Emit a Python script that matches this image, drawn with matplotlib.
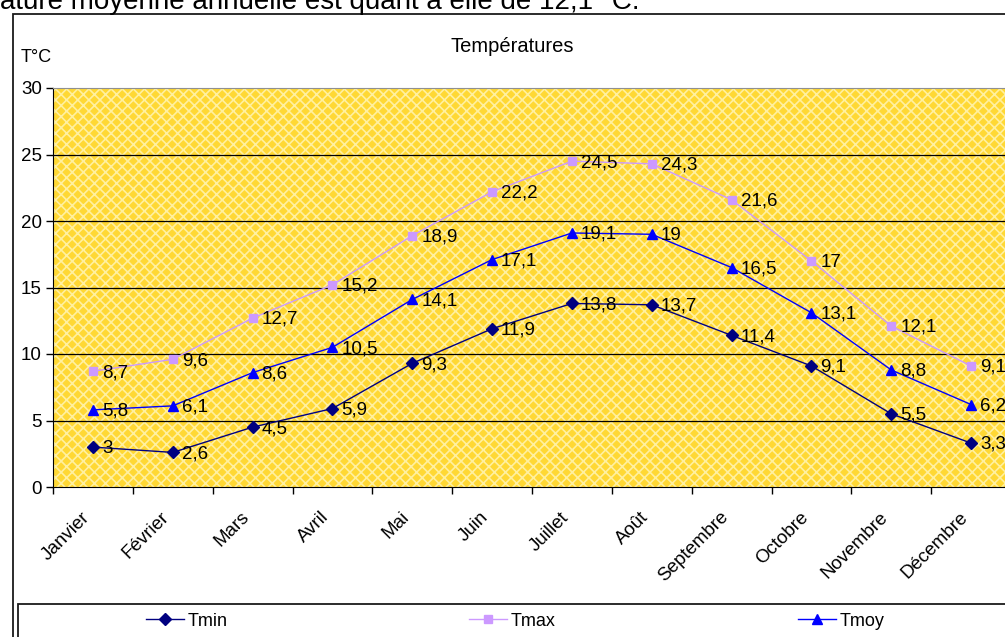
import matplotlib.pyplot as plt
import numpy as np
from matplotlib.patches import Rectangle
from matplotlib.transforms import ScaledTranslation

plt.rcParams['font.family'] = ['Liberation Sans', 'DejaVu Sans']
plt.rcParams['hatch.linewidth'] = 1.2

# values
mois = ['Janvier', 'Février', 'Mars', 'Avril', 'Mai', 'Juin', 'Juillet',
        'Août', 'Septembre', 'Octobre', 'Novembre', 'Décembre']
tmin = [3, 2.6, 4.5, 5.9, 9.3, 11.9, 13.8, 13.7, 11.4, 9.1, 5.5, 3.3]
tmax = [8.7, 9.6, 12.7, 15.2, 18.9, 22.2, 24.5, 24.3, 21.6, 17, 12.1, 9.1]
tmoy = [5.8, 6.1, 8.6, 10.5, 14.1, 17.1, 19.1, 19, 16.5, 13.1, 8.8, 6.2]
yticks = [0, 5, 10, 15, 20, 25, 30]


def fr(v):
    return ('%g' % v).replace('.', ',')


W, H = 1005, 637
fig = plt.figure(figsize=(W / 100, H / 100), dpi=100)

# chart frame + legend frame (run off the right / bottom of the picture)
fig.patches.append(Rectangle((13 / W, -0.05), 1.1, 1 - 14 / H + 0.05,
                             transform=fig.transFigure, fill=False,
                             ec='#1a1a1a', lw=1.3))
fig.patches.append(Rectangle((18 / W, -0.05), 1.1, (H - 604) / H + 0.05,
                             transform=fig.transFigure, fill=False,
                             ec='#1a1a1a', lw=1.3))

fig.text(0, 1 - 9 / H, 'ature moyenne annuelle est quant à elle de 12,1 °C.',
         ha='left', va='baseline', fontsize=20)
fig.text(512 / W, 1 - 46 / H, 'Températures', ha='center', va='center', fontsize=14.5)
fig.text(21 / W, 1 - 57 / H, 'T°C', ha='left', va='center', fontsize=13)

ax = fig.add_axes([53 / W, 1 - 487 / H, 958 / W, 399 / H])
ax.add_patch(Rectangle((0, 0), 1, 1, transform=ax.transAxes, facecolor='#FFD834',
                       edgecolor='#FFF0A0', hatch='xxx', lw=0, zorder=0))

x = np.arange(len(mois)) + 0.5
series = [(tmin, 'Tmin', '#000080', 'D', 6),
          (tmax, 'Tmax', '#CC99FF', 's', 5.5),
          (tmoy, 'Tmoy', '#0000FF', '^', 7.5)]
for vals, name, col, mk, ms in series:
    ax.plot(x, vals, color=col, marker=mk, ms=ms, lw=1, label=name, zorder=3)
    for xi, v in zip(x, vals):
        ax.annotate(fr(v), (xi, v), xytext=(6.5, -1), textcoords='offset points',
                    ha='left', va='center', fontsize=13.5, zorder=4)

ax.set_xlim(0, 12)
ax.set_ylim(0, 30)
ax.set_yticks(yticks)
ax.set_xticks(np.arange(13))
ax.set_xticklabels([])
ax.set_xticks(x, minor=True)
ax.set_xticklabels(mois, minor=True)
ax.tick_params(axis='x', which='major', length=5, width=1, direction='out')
ax.tick_params(axis='x', which='minor', length=0, pad=20, labelsize=13.5)
ax.tick_params(axis='y', length=5, width=1, pad=3, labelsize=13.5)
for lab in ax.get_xticklabels(minor=True):
    lab.set_rotation(45)
    lab.set_ha('right')
    lab.set_va('center')
    lab.set_rotation_mode('anchor')
    lab.set_transform(lab.get_transform() + ScaledTranslation(-0.06, 0, fig.dpi_scale_trans))

ax.set_axisbelow(True)
ax.yaxis.grid(True, color='black', lw=0.9)
ax.get_ygridlines()[-1].set_visible(False)
ax.get_ygridlines()[0].set_visible(False)
ax.spines['top'].set_color('#909090')
ax.spines['right'].set_visible(False)

ax.legend(loc='center', bbox_to_anchor=(515 / W, 1 - 621 / H), bbox_transform=fig.transFigure,
          ncol=3, frameon=False, fontsize=13, handlelength=2.1, handletextpad=0.2,
          columnspacing=13.4, borderpad=0)

plt.savefig('out.png', dpi=100)
